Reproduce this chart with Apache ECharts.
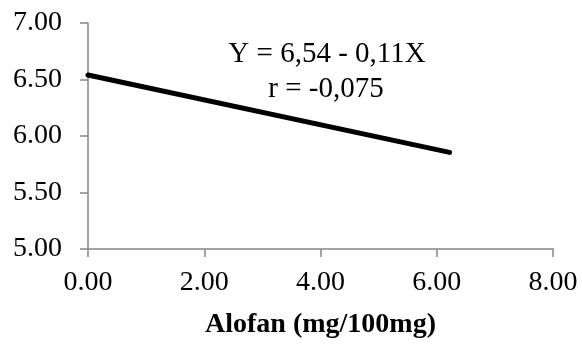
<!DOCTYPE html>
<html><head><meta charset="utf-8">
<script src="https://cdn.jsdelivr.net/npm/echarts@6/dist/echarts.min.js"></script>
<style>html,body{margin:0;padding:0;background:#fff}#c{width:582px;height:344px}</style>
</head><body><div id="c"></div>
<script>
var xValues = [0, 6.22];
var yValues = [6.54, 5.855];
var xTicks = [0, 2, 4, 6, 8];
var yTicks = [5, 5.5, 6, 6.5, 7];
var equationText = 'Y = 6,54 - 0,11X';
var rText = 'r = -0,075';
var xTitle = 'Alofan (mg/100mg)';

var font = 'Liberation Serif';
var chart = echarts.init(document.getElementById('c'));
chart.setOption({
  animation: false,
  grid: {left: 88, right: 29, top: 23, bottom: 92},
  xAxis: {
    type: 'value', min: xTicks[0], max: xTicks[xTicks.length-1], interval: 2,
    name: xTitle, nameLocation: 'middle', nameGap: 62,
    nameTextStyle: {fontFamily: font, fontSize: 28, fontWeight: 'bold', color: '#000'},
    axisLine: {show: true, lineStyle: {color: '#868686', width: 1.5}},
    axisTick: {show: true, length: 8, lineStyle: {color: '#868686', width: 1.5}},
    splitLine: {show: false},
    axisLabel: {fontFamily: font, fontSize: 28, color: '#000', margin: 20,
      formatter: function(v){return v.toFixed(2);}}
  },
  yAxis: {
    type: 'value', min: yTicks[0], max: yTicks[yTicks.length-1], interval: 0.5,
    axisLine: {show: true, lineStyle: {color: '#868686', width: 1.5}},
    axisTick: {show: true, length: 8, lineStyle: {color: '#868686', width: 1.5}},
    splitLine: {show: false},
    axisLabel: {fontFamily: font, fontSize: 28, color: '#000', margin: 26,
      formatter: function(v){return v.toFixed(2);}}
  },
  graphic: [
    {type: 'text', x: 327, y: 54, style: {text: equationText, font: '29px "Liberation Serif"', fill: '#000', textAlign: 'center', textVerticalAlign: 'middle'}},
    {type: 'text', x: 326, y: 89, style: {text: rText, font: '29px "Liberation Serif"', fill: '#000', textAlign: 'center', textVerticalAlign: 'middle'}}
  ],
  series: [{
    type: 'line', symbol: 'none',
    data: xValues.map(function(x,i){return [x, yValues[i]];}),
    lineStyle: {color: '#000', width: 5, cap: 'round'}
  }]
});
</script></body></html>
